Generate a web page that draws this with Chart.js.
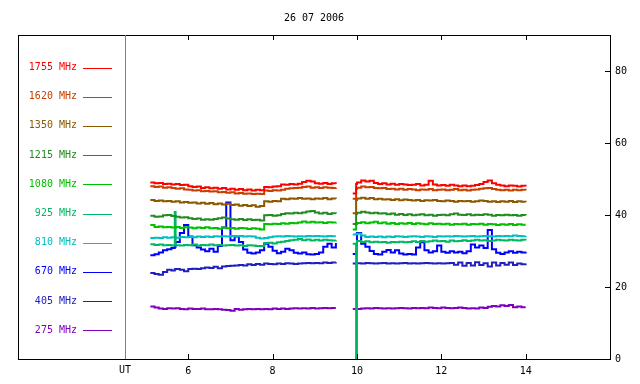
<!DOCTYPE html>
<html lang="en">
<head>
<meta charset="UTF-8" />
<title>26 07 2006</title>
<style>
  body { margin: 0; background: #ffffff; }
  #wrap { width: 640px; height: 384px; }
</style>
</head>
<body>
<div id="wrap"><canvas id="chartCanvas" width="640" height="384"></canvas></div>
<script src="https://cdn.jsdelivr.net/npm/chart.js"></script>
<script>
// UT hours; 9.7 is the gap between the two observing runs
const hours = [
  5.1, 5.2, 5.3, 5.4, 5.5, 5.6, 5.68, 5.7, 5.8, 5.9,
  6.0, 6.1, 6.2, 6.3, 6.4, 6.5, 6.6, 6.7, 6.8, 6.9,
  7.0, 7.1, 7.2, 7.3, 7.4, 7.5, 7.6, 7.7, 7.8, 7.9,
  8.0, 8.1, 8.2, 8.3, 8.4, 8.5, 8.6, 8.7, 8.8, 8.9,
  9.0, 9.1, 9.2, 9.3, 9.4, 9.5,
  9.7,
  9.9, 9.98,
  10.0, 10.1, 10.2, 10.3, 10.4, 10.5, 10.6, 10.7, 10.8, 10.9,
  11.0, 11.1, 11.2, 11.3, 11.4, 11.5, 11.6, 11.7, 11.8, 11.9,
  12.0, 12.1, 12.2, 12.3, 12.4, 12.5, 12.6, 12.7, 12.8, 12.9,
  13.0, 13.1, 13.2, 13.3, 13.4, 13.5, 13.6, 13.7, 13.8, 13.9,
  14.0
];

const f1755 = [
  49.0,48.8,48.9,48.6,48.7,48.5,48.5,48.6,48.3,48.4,
  48.0,47.8,47.9,47.5,47.7,47.4,47.6,47.3,47.5,47.1,
  47.3,47.0,47.2,46.9,47.1,46.8,47.0,46.9,47.8,47.7,
  47.9,48.0,48.5,48.4,48.6,48.5,48.7,49.2,49.5,49.3,
  48.8,48.7,48.9,48.6,48.8,48.7,
  null,
  46.0,48.6,
  49.0,49.6,49.3,49.5,48.9,48.6,48.8,48.5,48.7,48.4,
  48.6,48.5,48.3,48.4,48.6,48.2,48.4,49.5,48.5,48.2,
  48.3,48.1,48.4,48.2,48.0,48.2,48.0,48.1,48.3,48.6,
  49.2,49.6,48.8,48.4,48.2,48.0,48.2,48.1,47.9,48.1,
  48.0
];
const f1620 = [
  48.0,47.8,47.9,47.6,47.7,47.5,47.5,47.3,47.4,47.1,
  47.0,46.8,46.9,46.6,46.7,46.5,46.6,46.3,46.4,46.2,
  46.3,46.0,46.1,45.9,46.0,45.8,45.9,45.8,46.8,46.7,
  46.9,46.8,47.0,47.3,47.4,47.5,47.6,47.8,47.9,47.6,
  47.7,47.5,47.7,47.6,47.5,47.6,
  null,
  44.5,47.3,
  47.6,47.9,47.7,47.8,47.5,47.4,47.5,47.2,47.3,47.1,
  47.3,47.0,47.2,47.1,46.9,47.1,47.0,47.2,46.9,47.0,
  47.1,46.9,47.0,47.2,46.9,47.0,46.8,47.0,47.1,47.3,
  47.4,47.5,47.2,47.0,46.9,47.0,46.8,47.0,46.9,47.0,
  46.9
];
const f1350 = [
  44.2,43.9,44.0,43.8,43.9,43.7,43.7,43.8,43.5,43.6,
  43.4,43.5,43.2,43.4,43.1,43.3,43.0,43.2,42.9,43.1,
  42.8,42.9,42.6,42.8,42.5,42.7,42.3,42.5,43.8,43.7,
  43.9,43.8,44.5,44.4,44.6,44.5,44.7,44.5,44.6,44.4,
  44.6,44.5,44.7,44.4,44.6,44.5,
  null,
  40.5,44.2,
  44.6,44.8,44.5,44.7,44.4,44.5,44.3,44.4,44.2,44.4,
  44.1,44.3,44.2,44.0,44.2,43.9,44.1,44.0,44.2,43.9,
  43.8,44.0,43.9,43.7,43.9,43.8,43.9,43.7,43.8,44.0,
  43.9,43.7,43.8,43.6,43.8,43.7,43.9,43.6,43.8,43.7,
  43.6
];
const f1215 = [
  39.8,39.5,39.6,39.9,40.0,39.7,39.7,39.5,39.3,39.4,
  39.1,38.9,39.0,38.7,38.8,38.7,38.9,39.1,39.3,39.0,
  38.8,38.7,38.9,38.6,38.8,38.6,38.7,38.5,39.9,40.0,
  39.8,39.9,40.3,40.5,40.4,40.6,40.5,40.7,41.0,41.1,
  40.7,40.4,40.6,40.3,40.5,40.4,
  null,
  37.5,40.3,
  40.6,40.9,40.7,40.5,40.6,40.4,40.5,40.2,40.4,40.1,
  40.3,40.0,40.2,39.9,40.1,40.2,39.9,40.1,39.8,40.0,
  40.1,39.9,40.2,40.4,40.1,40.0,40.2,39.9,40.1,40.0,
  40.2,40.1,39.8,40.0,39.9,40.1,39.9,40.0,39.8,40.0,
  39.9
];
const f1080 = [
  37.2,36.7,36.8,36.6,36.7,36.5,36.5,36.7,36.4,36.6,
  36.5,36.3,36.5,36.4,36.6,36.3,36.4,36.2,36.5,36.3,
  36.4,36.2,36.4,36.3,36.1,36.3,36.2,36.0,37.5,37.4,
  37.6,37.5,37.7,37.6,37.8,37.7,37.9,38.2,37.9,38.1,
  37.9,38.0,37.8,38.0,37.9,38.0,
  null,
  36.0,37.5,
  37.8,38.0,37.7,37.9,38.1,37.7,37.9,37.6,37.8,37.5,
  37.7,37.6,37.8,37.5,37.7,37.6,37.4,37.7,37.5,37.6,
  37.4,37.6,37.3,37.5,37.4,37.6,37.3,37.5,37.4,37.6,
  37.3,37.5,37.4,37.2,37.4,37.3,37.5,37.2,37.4,37.3,
  37.3
];
const f925 = [
  31.9,31.7,31.8,31.6,31.7,31.5,40.8,31.6,31.5,31.7,
  31.6,31.8,31.5,31.7,31.6,31.8,31.6,31.7,31.5,31.6,
  31.7,31.5,31.6,31.4,31.6,31.5,31.4,31.4,32.2,32.3,
  32.1,32.4,32.6,32.8,33.0,33.1,33.3,33.0,33.2,32.9,
  33.1,32.9,33.1,33.0,32.9,33.0,
  null,
  32.0,0,
  32.8,32.5,32.7,32.4,32.6,32.4,32.5,32.3,32.5,32.4,
  32.6,32.4,32.5,32.7,32.5,32.8,32.6,32.7,32.9,32.7,
  32.8,32.6,32.9,32.7,32.8,33.0,32.8,32.9,33.1,32.9,
  33.0,32.8,32.9,33.1,33.0,32.9,33.1,33.0,32.9,33.1,
  33.0
];
const f810 = [
  33.6,33.7,33.6,33.8,33.7,33.8,33.8,33.7,33.9,33.8,
  33.9,33.8,34.0,33.9,34.0,33.9,34.1,34.0,34.1,34.0,
  34.2,34.1,34.2,34.0,34.1,34.0,33.7,33.5,33.6,33.8,
  34.0,34.1,34.0,34.2,34.1,34.0,34.1,34.0,34.2,34.1,
  34.2,34.1,34.0,34.2,34.1,34.1,
  null,
  34.6,34.7,
  34.8,34.3,33.9,34.0,33.9,34.0,33.8,34.0,33.9,34.1,
  34.0,33.9,34.0,34.1,34.0,33.9,34.1,34.0,33.9,34.1,
  34.0,34.1,34.0,34.2,34.1,34.0,34.1,34.2,34.0,34.1,
  34.2,34.1,34.0,34.2,34.1,34.2,34.1,34.3,34.2,34.1,
  34.2
];
const f670 = [
  28.8,29.1,29.6,30.2,30.5,30.8,31.2,32.5,35.0,37.2,
  34.0,31.6,31.0,30.4,29.9,30.6,29.8,31.4,36.5,43.5,
  33.0,34.0,32.5,30.4,29.5,29.3,29.6,30.2,32.0,31.2,
  30.1,29.4,29.8,30.6,30.2,29.5,29.3,29.6,29.1,29.0,
  29.2,29.6,31.2,32.0,31.0,32.2,
  null,
  29.2,30.0,
  35.0,32.0,31.2,30.0,29.2,29.0,29.8,30.3,29.6,30.2,
  29.3,29.0,29.2,29.0,31.0,32.4,30.2,29.6,29.9,31.5,
  29.8,29.5,29.9,29.6,29.8,29.4,29.9,31.8,31.0,31.5,
  30.8,35.8,30.5,29.5,29.2,29.6,29.9,29.5,29.8,29.6,
  29.8
];
const f405 = [
  23.9,23.6,23.4,24.2,24.8,24.6,24.9,25.0,24.8,24.4,
  25.0,25.1,25.0,25.2,25.4,25.3,25.6,25.2,25.7,25.8,
  25.9,26.0,26.1,26.0,26.3,26.1,26.4,26.2,26.5,26.4,
  26.3,26.5,26.4,26.6,26.5,26.4,26.5,26.6,26.7,26.6,
  26.7,26.6,26.8,26.7,26.8,26.9,
  null,
  26.5,26.6,
  26.6,26.5,26.7,26.6,26.5,26.6,26.7,26.5,26.6,26.5,
  26.6,26.7,26.5,26.6,26.5,26.6,26.7,26.6,26.5,26.6,
  26.5,26.6,26.7,26.2,26.8,25.9,26.7,26.0,26.9,26.1,
  26.6,25.7,26.8,26.0,26.7,26.2,26.8,26.1,26.5,26.3,
  26.5
];
const f275 = [
  14.6,14.3,14.0,13.9,14.1,14.0,14.0,14.1,13.9,13.8,
  14.0,13.9,13.9,14.0,13.8,13.8,13.9,13.8,13.7,13.6,
  13.4,13.9,13.7,13.8,13.9,13.8,13.9,13.8,13.9,13.8,
  14.0,13.9,14.0,13.9,14.0,14.1,14.0,14.1,14.0,14.2,
  14.0,14.1,14.2,14.1,14.2,14.2,
  null,
  13.9,13.9,
  13.9,14.0,14.1,14.0,14.2,14.1,14.0,14.1,14.0,14.1,
  14.2,14.1,14.0,14.2,14.1,14.2,14.1,14.3,14.2,14.1,
  14.3,14.2,14.1,14.2,14.3,14.2,14.0,14.1,14.0,14.3,
  14.2,14.5,14.7,14.6,14.9,14.7,15.0,14.4,14.6,14.4,
  14.4
];

const channels = ['1755 MHz', '1620 MHz', '1350 MHz', '1215 MHz', '1080 MHz',
                  '925 MHz', '810 MHz', '670 MHz', '405 MHz', '275 MHz'];
const series = [f1755, f1620, f1350, f1215, f1080, f925, f810, f670, f405, f275];
const colors = ['#ff0000', '#c84000', '#8b5a00', '#228b22', '#00c000',
                '#00b864', '#00c0c0', '#0000ff', '#2020c0', '#8000c0'];
const xTicks = [6, 8, 10, 12, 14];
const yTicks = [0, 20, 40, 60, 80];
const title = '26 07 2006';

const FONT = '10px "DejaVu Sans Mono", monospace';
const FRAME_LEFT = 18;

// frame, divider, inward ticks, title, left legend panel
const framePlugin = {
  id: 'frame',
  afterDraw(chart) {
    const ctx = chart.ctx;
    const a = chart.chartArea;
    const xs = chart.scales.x, ys = chart.scales.y;
    ctx.save();
    ctx.lineWidth = 1;
    ctx.strokeStyle = '#000';
    ctx.strokeRect(FRAME_LEFT + 0.5, a.top + 0.5, a.right - FRAME_LEFT, a.bottom - a.top);
    ctx.strokeStyle = '#808080';
    ctx.beginPath();
    ctx.moveTo(a.left + 0.5, a.top);
    ctx.lineTo(a.left + 0.5, a.bottom);
    ctx.stroke();

    ctx.strokeStyle = '#000';
    ctx.beginPath();
    xs.ticks.forEach(t => {
      const px = Math.round(xs.getPixelForValue(t.value)) + 0.5;
      ctx.moveTo(px, a.top); ctx.lineTo(px, a.top + 5);
      ctx.moveTo(px, a.bottom); ctx.lineTo(px, a.bottom - 5);
    });
    ys.ticks.forEach(t => {
      const py = Math.round(ys.getPixelForValue(t.value)) + 0.5;
      ctx.moveTo(a.right, py); ctx.lineTo(a.right - 5, py);
    });
    ctx.stroke();

    ctx.font = FONT;
    ctx.fillStyle = '#000';
    ctx.textAlign = 'center';
    ctx.textBaseline = 'middle';
    ctx.fillText(title, (FRAME_LEFT + a.right) / 2, 18);
    ctx.fillText('UT', a.left, 370);

    channels.forEach((name, i) => {
      const y = 67.5 + i * 29.2;
      ctx.fillStyle = colors[i];
      ctx.textAlign = 'right';
      ctx.fillText(name, 77, y);
      ctx.strokeStyle = colors[i];
      ctx.beginPath();
      ctx.moveTo(83, Math.round(y) + 0.5);
      ctx.lineTo(112, Math.round(y) + 0.5);
      ctx.stroke();
    });
    ctx.restore();
  }
};

new Chart(document.getElementById('chartCanvas'), {
  type: 'line',
  data: {
    labels: hours,
    datasets: series.map((vals, i) => ({
      label: channels[i],
      data: vals.map((v, j) => ({ x: hours[j], y: v })),
      borderColor: colors[i],
      borderWidth: 2,
      pointRadius: 0,
      stepped: true,
      spanGaps: false,
      fill: false
    }))
  },
  options: {
    responsive: false,
    animation: false,
    devicePixelRatio: 1,
    layout: { padding: { left: 125, top: 35, right: 0, bottom: 0 } },
    plugins: { legend: { display: false }, tooltip: { enabled: false } },
    scales: {
      x: {
        type: 'linear',
        min: 4.5,
        max: 16,
        grid: { display: false, drawTicks: false },
        border: { display: false },
        afterBuildTicks: s => { s.ticks = xTicks.map(v => ({ value: v })); },
        afterFit: s => { s.height = 25; },
        ticks: { color: '#000', font: { family: '"DejaVu Sans Mono", monospace', size: 10 }, padding: 6, maxRotation: 0 }
      },
      y: {
        position: 'right',
        min: 0,
        max: 90,
        grid: { display: false, drawTicks: false },
        border: { display: false },
        afterBuildTicks: s => { s.ticks = yTicks.map(v => ({ value: v })); },
        afterFit: s => { s.width = 30; },
        ticks: { color: '#000', font: { family: '"DejaVu Sans Mono", monospace', size: 10 }, padding: 5 }
      }
    }
  },
  plugins: [framePlugin]
});
</script>
</body>
</html>
